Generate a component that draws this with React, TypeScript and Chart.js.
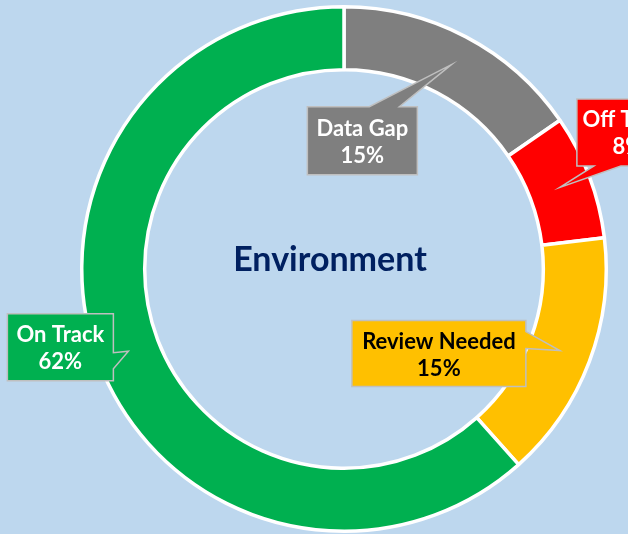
import React, { useEffect, useRef } from "react";
import { Chart, registerables } from "chart.js";

Chart.register(...registerables);

const categories = ["Data Gap", "Off Track", "Review Needed", "On Track"];
const shares = [15.4, 7.7, 15.3, 61.6];
const sliceColors = ["#7F7F7F", "#FF0000", "#FFC000", "#00B050"];
const labelTextColors = ["#FFFFFF", "#FFFFFF", "#000000", "#FFFFFF"];
const centerTitle = "Environment";

// callout layout: box centre offset from the slice anchor, box size, pointer base
const calloutLayout = [
  { dx: -89, dy: 76, w: 110, h: 68, side: "top", a: 62, b: 92 },
  { dx: 68, dy: -55, w: 102, h: 67, side: "bottom", a: 17, b: 44 },
  { dx: -121, dy: 3, w: 174, h: 66, side: "right", a: 11, b: 28 },
  { dx: -68, dy: -4, w: 106, h: 67, side: "right", a: 39, b: 55 },
];

const BG = "#BDD7EE";

const calloutPlugin = {
  id: "calloutPlugin",
  afterDatasetsDraw(chart: any) {
    const ctx = chart.ctx as CanvasRenderingContext2D;
    const meta = chart.getDatasetMeta(0);
    const first = meta.data[0];
    ctx.save();
    // centre title
    ctx.fillStyle = "#002060";
    ctx.font = "bold 34px Lato";
    ctx.textAlign = "center";
    ctx.textBaseline = "alphabetic";
    ctx.fillText(centerTitle, first.x - 14, first.y + 2);

    meta.data.forEach((arc: any, i: number) => {
      const tip = arc.getCenterPoint();
      const lay = calloutLayout[i];
      const cx = tip.x + lay.dx;
      const cy = tip.y + lay.dy;
      const L = cx - lay.w / 2;
      const R = cx + lay.w / 2;
      const T = cy - lay.h / 2;
      const B = cy + lay.h / 2;
      ctx.beginPath();
      ctx.moveTo(L, T);
      if (lay.side === "top") {
        ctx.lineTo(L + lay.a, T);
        ctx.lineTo(tip.x, tip.y);
        ctx.lineTo(L + lay.b, T);
      }
      ctx.lineTo(R, T);
      if (lay.side === "right") {
        ctx.lineTo(R, T + lay.a);
        ctx.lineTo(tip.x, tip.y);
        ctx.lineTo(R, T + lay.b);
      }
      ctx.lineTo(R, B);
      if (lay.side === "bottom") {
        ctx.lineTo(L + lay.b, B);
        ctx.lineTo(tip.x, tip.y);
        ctx.lineTo(L + lay.a, B);
      }
      ctx.lineTo(L, B);
      ctx.closePath();
      ctx.fillStyle = sliceColors[i];
      ctx.fill();
      ctx.strokeStyle = "#BFBFBF";
      ctx.lineWidth = 1.5;
      ctx.lineJoin = "miter";
      ctx.stroke();

      ctx.fillStyle = labelTextColors[i];
      ctx.font = "bold 22px Lato";
      ctx.textAlign = "center";
      ctx.textBaseline = "alphabetic";
      ctx.fillText(categories[i], cx, cy - 5);
      ctx.fillText(Math.round(shares[i]) + "%", cx, cy + 22);
    });
    ctx.restore();
  },
};

export default function App() {
  const ref = useRef<HTMLCanvasElement | null>(null);
  useEffect(() => {
    document.body.style.margin = "0";
    document.body.style.background = BG;
    const chart = new Chart(ref.current as HTMLCanvasElement, {
      type: "doughnut",
      data: {
        labels: categories,
        datasets: [
          {
            data: shares,
            backgroundColor: sliceColors,
            borderColor: "#FFFFFF",
            borderWidth: 3.5,
          },
        ],
      },
      options: {
        responsive: false,
        animation: false,
        cutout: "76%",
        rotation: 0,
        layout: { padding: { left: 80, right: 20, top: 5, bottom: 1 } },
        plugins: {
          legend: { display: false },
          tooltip: { enabled: false },
          title: { display: false },
        },
      },
      plugins: [calloutPlugin],
    });
    return () => chart.destroy();
  }, []);
  return (
    <div style={{ position: "fixed", left: 0, top: 0, width: 628, height: 534, background: BG }}>
      <canvas ref={ref} width={628} height={534} style={{ display: "block" }} />
    </div>
  );
}
